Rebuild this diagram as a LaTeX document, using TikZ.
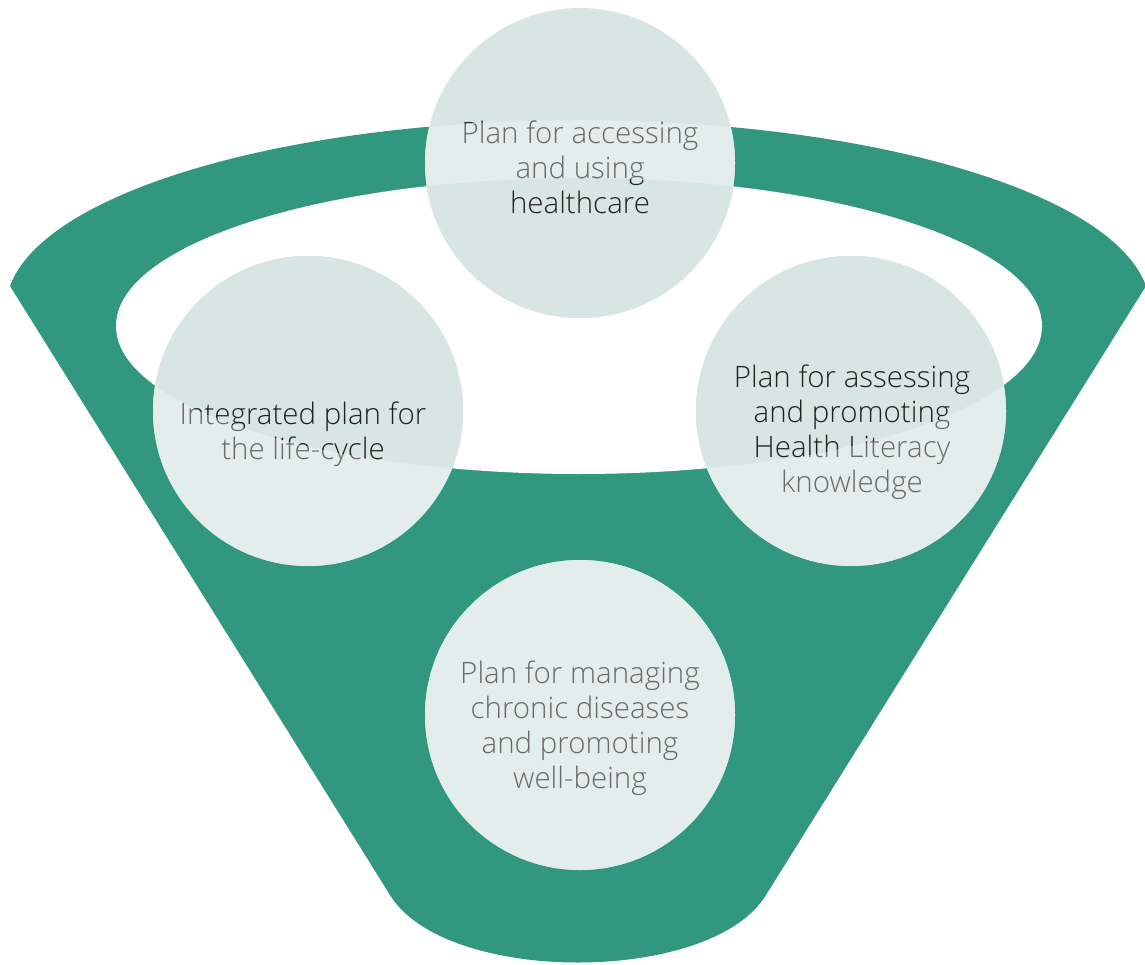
\documentclass[tikz,border=0pt]{standalone}
\usepackage{fontspec}
\setmainfont{Open Sans}[UprightFont={* Light}]
\definecolor{funnelgreen}{HTML}{31977E}
\definecolor{circonwhite}{HTML}{D8E6E3}
\definecolor{circongreen}{HTML}{E3EDEB}
\definecolor{txtdark}{HTML}{222222}
\definecolor{txtgray}{HTML}{6A6A6A}
\tikzset{
  bubble/.style={circle, minimum size=310pt, inner sep=0pt, draw=none},
  bubbletext/.style={align=center, inner sep=0pt, font=\fontsize{29.5}{35}\selectfont},
}
\newcommand\funnelshape{(10,286) -- (390,895) .. controls (445,985) and (711,985) .. (766,895) -- (1146,286) arc[start angle=-6.8, end angle=-173.2, x radius=572, y radius=188] -- cycle}
\newcommand\holeshape{(579,326) ellipse [x radius=463, y radius=148]}
\newcommand\bubblelayer[3]{%
  \node[bubble, fill=#1] (ctop#3) at (580,163) {};
  \node[bubble, fill=#1] (cleft#3) at (308,411) {};
  \node[bubble, fill=#1] (cright#3) at (851,411) {};
  \node[bubble, fill=#1] (cbottom#3) at (580,715) {};
  \node[bubbletext, text=#2] (ttop#3) at (580,167) {Plan for accessing\\and using\\healthcare};
  \node[bubbletext, text=#2] (tleft#3) at (303,434) {Integrated plan for\\the life-cycle};
  \node[bubbletext, text=#2] (tright#3) at (852,432) {Plan for assessing\\and promoting\\Health Literacy\\knowledge};
  \node[bubbletext, text=#2] (tbottom#3) at (580,728) {Plan for managing\\chronic diseases\\and promoting\\well-being};
}
\begin{document}
\begin{tikzpicture}[x=1pt, y=-1pt]
  \useasboundingbox (0,0) rectangle (1145,965);
  \clip (0,0) rectangle (1145,965);
  \fill[white] (0,0) rectangle (1145,965);
  % funnel
  \fill[funnelgreen] \funnelshape;
  \fill[white] \holeshape;
  % bubbles over white
  \bubblelayer{circonwhite}{txtdark}{w}
  % bubbles over the green funnel
  \begin{scope}
    \clip \funnelshape;
    \bubblelayer{circongreen}{txtgray}{g}
  \end{scope}
  % bubbles over the white hole
  \begin{scope}
    \clip \holeshape;
    \bubblelayer{circonwhite}{txtdark}{h}
  \end{scope}
\end{tikzpicture}
\end{document}
